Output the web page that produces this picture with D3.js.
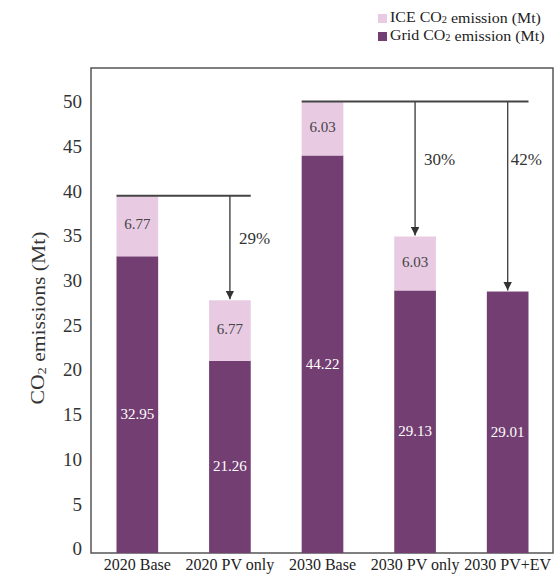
<!DOCTYPE html>
<html>
<head>
<meta charset="utf-8">
<script src="https://cdn.jsdelivr.net/npm/d3@7"></script>
<style>
  body { margin: 0; background: #fff; }
  svg text { font-family: 'Liberation Serif', 'Times New Roman', 'DejaVu Serif', serif; }
</style>
</head>
<body>
<div id="chart"></div>
<script>
// Scenario data (Mt CO2)
const scenarios = ['2020 Base', '2020 PV only', '2030 Base', '2030 PV only', '2030 PV+EV'];
const gridEmission = [32.95, 21.26, 44.22, 29.13, 29.01];
const iceEmission = [6.77, 6.77, 6.03, 6.03, 0];
const yTicks = [0, 5, 10, 15, 20, 25, 30, 35, 40, 45, 50];

// reduction brackets: from base scenario to target scenario
const reductions = [
    { from: 0, to: [1], labels: ['29%'] },
    { from: 2, to: [3, 4], labels: ['30%', '42%'] }
];

const width = 557;
const height = 576;
const frame = { left: 91, right: 553, top: 68, bottom: 553 };

const darkColor = '#733f72';
const lightColor = '#e8cae3';

const svg = d3.select('#chart')
    .append('svg')
    .attr('width', width)
    .attr('height', height);

const x = d3.scaleBand()
    .domain(scenarios)
    .range([frame.left + 0.5, frame.right + 0.5])
    .paddingInner(0.55)
    .paddingOuter(0.27);

const y = d3.scaleLinear()
    .domain([0, 54])
    .range([551, 68]);

// frame
svg.append('rect')
    .attr('x', frame.left)
    .attr('y', frame.top)
    .attr('width', frame.right - frame.left)
    .attr('height', frame.bottom - frame.top)
    .attr('fill', 'none')
    .attr('stroke', '#555')
    .attr('stroke-width', 1.5);

// y axis labels (no tick marks in the original)
svg.append('g')
    .selectAll('text')
    .data(yTicks)
    .enter()
    .append('text')
    .attr('x', 82)
    .attr('y', d => y(d))
    .attr('text-anchor', 'end')
    .attr('dominant-baseline', 'middle')
    .attr('font-size', 19)
    .attr('fill', '#333')
    .text(d => d);

// title is a bit stretched along its length in the original
svg.append('text')
    .attr('transform', 'translate(40,318) rotate(-90) scale(1.2,1)')
    .attr('text-anchor', 'middle')
    .attr('dominant-baseline', 'middle')
    .attr('font-size', 18)
    .attr('fill', '#333')
    .html('CO<tspan font-size="12" dy="3">2</tspan><tspan dy="-3"> emissions (Mt)</tspan>');

// x labels
svg.append('g')
    .selectAll('text')
    .data(scenarios)
    .enter()
    .append('text')
    .attr('x', d => x(d) + x.bandwidth() / 2)
    .attr('y', 566)
    .attr('text-anchor', 'middle')
    .attr('dominant-baseline', 'middle')
    .attr('font-size', 16)
    .attr('fill', '#222')
    .text(d => d);

// bars
const rows = scenarios.map((s, i) => ({ name: s, grid: gridEmission[i], ice: iceEmission[i] }));

const bars = svg.append('g');

bars.selectAll('rect.grid')
    .data(rows)
    .enter()
    .append('rect')
    .attr('class', 'grid')
    .attr('x', d => x(d.name))
    .attr('width', x.bandwidth())
    .attr('y', d => y(d.grid))
    .attr('height', d => y(0) - y(d.grid) + 2)
    .attr('fill', darkColor);

bars.selectAll('rect.ice')
    .data(rows.filter(d => d.ice > 0))
    .enter()
    .append('rect')
    .attr('class', 'ice')
    .attr('x', d => x(d.name))
    .attr('width', x.bandwidth())
    .attr('y', d => y(d.grid + d.ice))
    .attr('height', d => y(d.grid) - y(d.grid + d.ice))
    .attr('fill', lightColor);

// value labels
bars.selectAll('text.grid')
    .data(rows)
    .enter()
    .append('text')
    .attr('x', d => x(d.name) + x.bandwidth() / 2)
    .attr('y', d => (y(0) + y(d.grid)) / 2 + 12)
    .attr('text-anchor', 'middle')
    .attr('dominant-baseline', 'middle')
    .attr('font-size', 15)
    .attr('fill', '#fff')
    .text(d => d.grid.toFixed(2));

bars.selectAll('text.ice')
    .data(rows.filter(d => d.ice > 0))
    .enter()
    .append('text')
    .attr('x', d => x(d.name) + x.bandwidth() / 2)
    .attr('y', d => (y(d.grid) + y(d.grid + d.ice)) / 2)
    .attr('text-anchor', 'middle')
    .attr('dominant-baseline', 'middle')
    .attr('font-size', 15)
    .attr('fill', '#444')
    .text(d => d.ice.toFixed(2));

// arrow marker
svg.append('defs')
    .append('marker')
    .attr('id', 'arrow')
    .attr('viewBox', '0 0 10 10')
    .attr('refX', 10)
    .attr('refY', 5)
    .attr('markerWidth', 6)
    .attr('markerHeight', 6)
    .attr('orient', 'auto')
    .append('path')
    .attr('d', 'M0,0 L10,5 L0,10 z')
    .attr('fill', '#333');

const total = i => gridEmission[i] + iceEmission[i];
const cx = i => x(scenarios[i]) + x.bandwidth() / 2;

reductions.forEach(r => {
    const baseY = y(total(r.from));
    const lastIdx = r.to[r.to.length - 1];
    // percentage labels share the height of the first arrow's midpoint
    const labelY = (baseY + y(total(r.to[0]))) / 2 - 8;
    svg.append('line')
        .attr('x1', x(scenarios[r.from]))
        .attr('x2', x(scenarios[lastIdx]) + x.bandwidth())
        .attr('y1', baseY)
        .attr('y2', baseY)
        .attr('stroke', '#444')
        .attr('stroke-width', 2);

    r.to.forEach((t, k) => {
        svg.append('line')
            .attr('x1', cx(t))
            .attr('x2', cx(t))
            .attr('y1', baseY)
            .attr('y2', y(total(t)) - 1)
            .attr('stroke', '#444')
            .attr('stroke-width', 1.4)
            .attr('marker-end', 'url(#arrow)');

        svg.append('text')
            .attr('x', cx(t) + (k === r.to.length - 1 && k > 0 ? 3 : 9))
            .attr('y', labelY)
            .attr('dominant-baseline', 'middle')
            .attr('font-size', 17)
            .attr('fill', '#333')
            .text(r.labels[k]);
    });
});

// legend
const legendItems = [
    { label: 'ICE CO', sub: '2', rest: ' emission (Mt)', color: lightColor },
    { label: 'Grid CO', sub: '2', rest: ' emission (Mt)', color: darkColor }
];

const legend = svg.append('g').attr('transform', 'translate(378,14)');

legendItems.forEach((d, i) => {
    const g = legend.append('g').attr('transform', `translate(0,${i * 18})`);
    g.append('rect')
        .attr('width', 9)
        .attr('height', 9)
        .attr('fill', d.color);
    g.append('text')
        .attr('transform', 'translate(12,5) scale(1.1,1)')
        .attr('dominant-baseline', 'middle')
        .attr('font-size', 14.5)
        .attr('fill', '#222')
        .html(`${d.label}<tspan font-size="9.5" dy="2">${d.sub}</tspan><tspan dy="-2">${d.rest}</tspan>`);
});
</script>
</body>
</html>
